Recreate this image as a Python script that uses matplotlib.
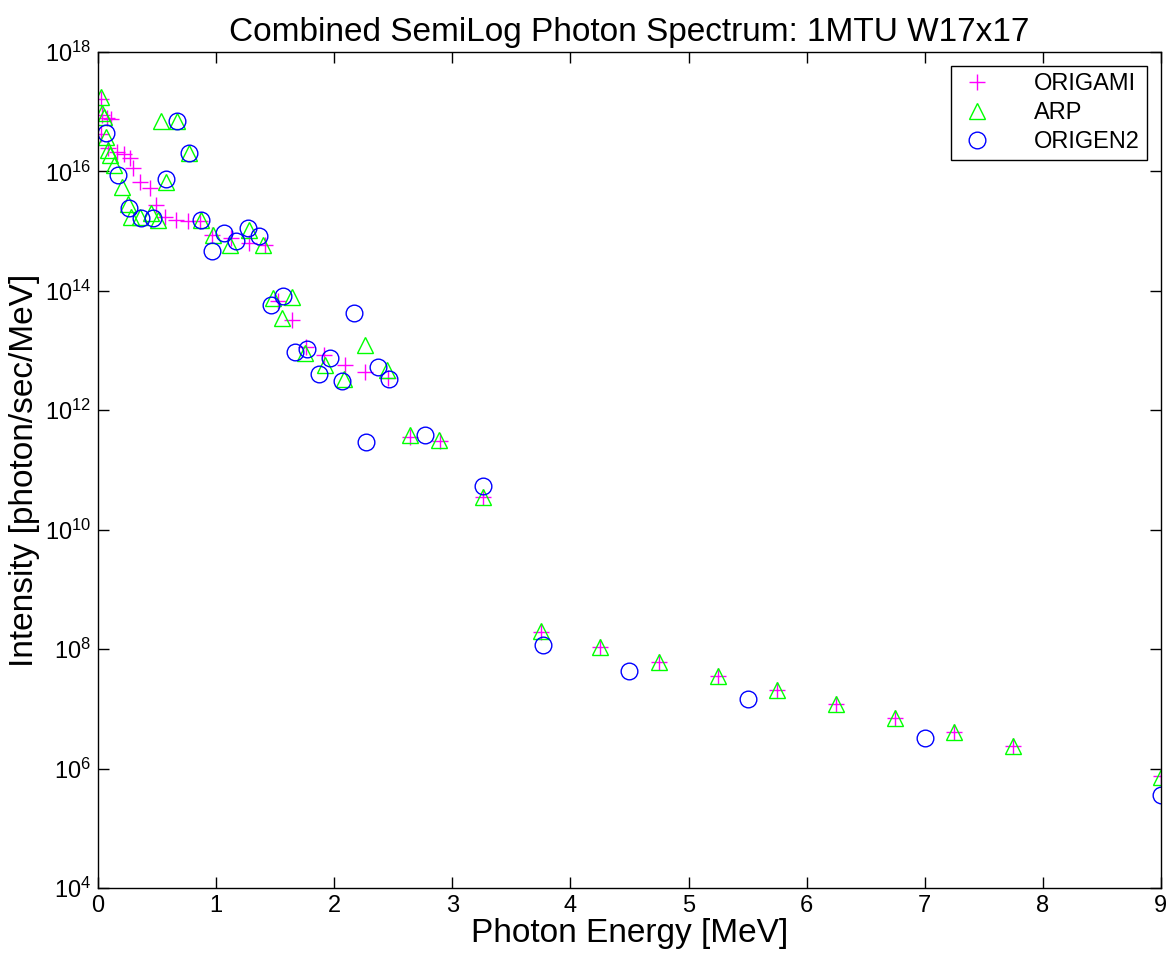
import numpy as np
import matplotlib
matplotlib.use('Agg')
import matplotlib.pyplot as plt

plt.rcParams['font.family'] = ['Liberation Sans', 'DejaVu Sans']

# ORIGAMI (magenta plus)
origami_e = [0.025, 0.034, 0.076, 0.11, 0.025, 0.085, 0.16, 0.22, 0.27, 0.30,
             0.36, 0.44, 0.49, 0.567, 0.66, 0.762, 0.864, 0.965, 1.126, 1.279,
             1.414, 1.524, 1.643, 1.761, 1.914, 2.091, 2.261, 2.456, 2.642, 2.896,
             3.26, 3.75, 4.25, 4.75, 5.25, 5.75, 6.25, 6.75, 7.25, 7.75, 9.0]
origami_i = [1.63e17, 8.8e16, 7.8e16, 7.5e16, 4.2e16, 2.5e16, 2.1e16, 1.96e16, 1.7e16, 1.14e16,
             6.7e15, 5.3e15, 2.7e15, 1.73e15, 1.54e15, 1.48e15, 1.48e15, 8.6e14, 7.7e14, 6.3e14,
             5.9e14, 6.8e13, 3.25e13, 1.15e13, 8.4e12, 5.7e12, 4.4e12, 3.5e12, 3.6e11, 3.05e11,
             3.5e10, 1.93e8, 1.08e8, 6.1e7, 3.5e7, 2.07e7, 1.2e7, 7.0e6, 4.1e6, 2.4e6, 7.5e5]

# ARP (green triangle)
arp_e = [0.025, 0.034, 0.051, 0.068, 0.085, 0.10, 0.135, 0.20, 0.254, 0.28,
         0.356, 0.45, 0.51, 0.533, 0.576, 0.669, 0.771, 0.872, 0.974, 1.118,
         1.279, 1.397, 1.482, 1.558, 1.643, 1.753, 1.922, 2.083, 2.261, 2.447,
         2.642, 2.887, 3.26, 3.75, 4.25, 4.75, 5.25, 5.75, 6.25, 6.75, 7.25, 7.75, 9.0]
arp_i = [1.76e17, 9.5e16, 8.2e16, 3.8e16, 2.3e16, 1.9e16, 1.28e16, 5.5e15, 2.8e15, 1.73e15,
         1.73e15, 2.0e15, 1.54e15, 7.0e16, 6.7e15, 7.0e16, 2.0e16, 1.54e15, 8.6e14, 5.9e14,
         1.04e15, 5.9e14, 7.6e13, 3.5e13, 7.9e13, 9.1e12, 5.7e12, 3.3e12, 1.24e13, 4.7e12,
         3.9e11, 3.2e11, 3.5e10, 2.0e8, 1.08e8, 6.1e7, 3.5e7, 2.07e7, 1.2e7, 7.0e6, 4.1e6, 2.4e6, 7.2e5]

# ORIGEN2 (blue circle)
origen2_e = [0.068, 0.17, 0.26, 0.364, 0.466, 0.576, 0.669, 0.771, 0.872, 0.965,
             1.067, 1.168, 1.27, 1.363, 1.465, 1.566, 1.668, 1.77, 1.871, 1.964,
             2.066, 2.168, 2.269, 2.371, 2.464, 2.769, 3.26, 3.77, 4.5, 5.5, 7.0, 9.0]
origen2_i = [4.4e16, 8.7e15, 2.4e15, 1.66e15, 1.66e15, 7.5e15, 7.0e16, 2.0e16, 1.54e15, 4.6e14,
             9.3e14, 6.8e14, 1.13e15, 8.3e14, 5.8e13, 8.2e13, 9.5e12, 1.06e13, 4.05e12, 7.5e12,
             3.1e12, 4.3e13, 2.9e11, 5.3e12, 3.3e12, 3.9e11, 5.4e10, 1.17e8, 4.3e7, 1.46e7, 3.2e6, 3.6e5]


def main():
    fig = plt.figure(figsize=(11.69, 9.61), dpi=100)
    ax = fig.add_axes([0.0838, 0.076, 0.9093, 0.870])

    ax.semilogy(origami_e, origami_i, '+', color='#ff00ff', markersize=11,
                markeredgewidth=1.0, label='ORIGAMI')
    ax.semilogy(arp_e, arp_i, '^', color='#00ff00', markersize=12,
                markerfacecolor='none', markeredgewidth=1.0, label='ARP')
    ax.semilogy(origen2_e, origen2_i, 'o', color='#0000ff', markersize=12,
                markerfacecolor='none', markeredgewidth=1.0, label='ORIGEN2')

    ax.set_xlim(0, 9)
    ax.set_ylim(1e4, 1e18)
    ax.set_xticks(np.arange(0, 10))
    ax.set_yticks([10.0 ** k for k in range(4, 19, 2)])
    ax.yaxis.set_minor_locator(matplotlib.ticker.NullLocator())
    ax.tick_params(direction='in', top=True, right=True, labelsize=17,
                   length=8, width=1, pad=5)
    for s in ax.spines.values():
        s.set_linewidth(1)

    ax.set_title('Combined SemiLog Photon Spectrum: 1MTU W17x17', fontsize=24, pad=8)
    ax.set_xlabel('Photon Energy [MeV]', fontsize=24, labelpad=1)
    ax.set_ylabel('Intensity [photon/sec/MeV]', fontsize=24, labelpad=3)

    leg = ax.legend(loc='upper right', fontsize=17, fancybox=False, framealpha=1,
                    edgecolor='black', borderaxespad=0.6, handletextpad=1.6,
                    handlelength=1.6, borderpad=0.3, labelspacing=0.3)
    leg.get_frame().set_linewidth(1)

    fig.savefig('out.png', dpi=100)


if __name__ == '__main__':
    main()
